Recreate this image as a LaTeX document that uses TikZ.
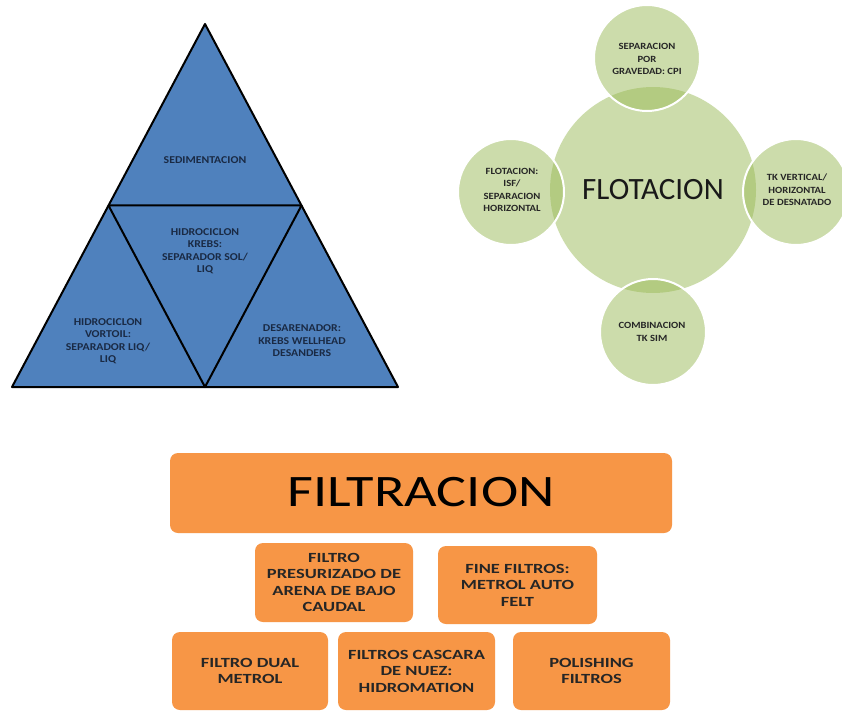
\documentclass[tikz,border=0pt]{standalone}
\usepackage{fontspec}
\setmainfont{Carlito}
\newfontfamily\wideA[FakeStretch=1.12]{Carlito}
\newfontfamily\wideB[FakeStretch=1.25]{Carlito}
\newfontfamily\wideC[FakeStretch=1.32]{Carlito}
\definecolor{triblue}{HTML}{4F81BD}
\definecolor{tritext}{HTML}{1A2A44}
\definecolor{cgreen}{HTML}{9BBB59}
\definecolor{forange}{HTML}{F79646}
\definecolor{ftext}{HTML}{262626}
\tikzset{
  tritxt/.style={align=center, text=tritext, font=\wideA\bfseries\fontsize{10.5}{12.5}\selectfont},
  circtxt/.style={align=center, text=black!85, font=\wideA\bfseries\fontsize{9.5}{12.5}\selectfont},
  smallc/.style={circle, minimum size=106pt, inner sep=0pt, fill=cgreen, fill opacity=0.5, draw=white, draw opacity=1, line width=2pt},
  fbox/.style={rounded corners=8pt, fill=forange},
  ftxt/.style={align=center, text=ftext, font=\wideC\bfseries\fontsize{14}{16.5}\selectfont}
}
\begin{document}
\begin{tikzpicture}[x=1pt,y=-1pt]
\useasboundingbox (0,0) rectangle (842,711);
\fill[white] (0,0) rectangle (842,711);

% ---------- Triangle ----------
\coordinate (tA) at (205,24);
\coordinate (tB) at (12,387);
\coordinate (tC) at (398,387);
\coordinate (tD) at (108.5,205.5);
\coordinate (tE) at (301.5,205.5);
\coordinate (tF) at (205,387);
\filldraw[fill=triblue, draw=black, line width=2pt, line join=round] (tA) -- (tB) -- (tC) -- cycle;
\draw[black, line width=2pt, line join=round] (tD) -- (tE) -- (tF) -- cycle;
\node[tritxt] (sed) at (205,160) {SEDIMENTACION};
\node[tritxt] (krebs) at (205,251) {HIDROCICLON\\KREBS:\\SEPARADOR SOL/\\LIQ};
\node[tritxt] (vort) at (108,341) {HIDROCICLON\\VORTOIL:\\SEPARADOR LIQ/\\LIQ};
\node[tritxt] (desa) at (302,341) {DESARENADOR:\\KREBS WELLHEAD\\DESANDERS};

% ---------- Circles ----------
\node[circle, minimum size=206pt, inner sep=0pt, fill=cgreen, fill opacity=0.5] (main) at (653,190) {};
\node[smallc] (ctop) at (647,58) {};
\node[smallc] (cleft) at (511,192) {};
\node[smallc] (cright) at (796,192) {};
\node[smallc] (cbot) at (653,332) {};
\node[font=\fontsize{31}{34}\selectfont, text=black!90] (flot) at (653,190) {FLOTACION};
\node[circtxt] (ttop) at (647,59) {SEPARACION\\POR\\GRAVEDAD: CPI};
\node[circtxt] (tleft) at (512,190) {FLOTACION:\\ISF/\\SEPARACION\\HORIZONTAL};
\node[circtxt] (tright) at (797,190) {TK VERTICAL/\\HORIZONTAL\\DE DESNATADO};
\node[circtxt] (tbot) at (652,332) {COMBINACION\\TK SIM};

% ---------- Filtration ----------
\fill[fbox] (170,453) rectangle (672,533);
\node[font=\wideB\fontsize{45}{48}\selectfont, text=black] (filt) at (421,492) {FILTRACION};
\fill[fbox] (255,543) rectangle (413,622);
\node[ftxt] (f1) at (334,582.5) {FILTRO\\PRESURIZADO DE\\ARENA DE BAJO\\CAUDAL};
\fill[fbox] (438,546) rectangle (597,624);
\node[ftxt] (f2) at (517.5,585) {FINE FILTROS:\\METROL AUTO\\FELT};
\fill[fbox] (172,632) rectangle (328,710);
\node[ftxt] (f3) at (250,671) {FILTRO DUAL\\METROL};
\fill[fbox] (338,632) rectangle (495,710);
\node[ftxt] (f4) at (416.5,671) {FILTROS CASCARA\\DE NUEZ:\\HIDROMATION};
\fill[fbox] (513,632) rectangle (670,710);
\node[ftxt] (f5) at (591.5,671) {POLISHING\\FILTROS};
\end{tikzpicture}
\end{document}
